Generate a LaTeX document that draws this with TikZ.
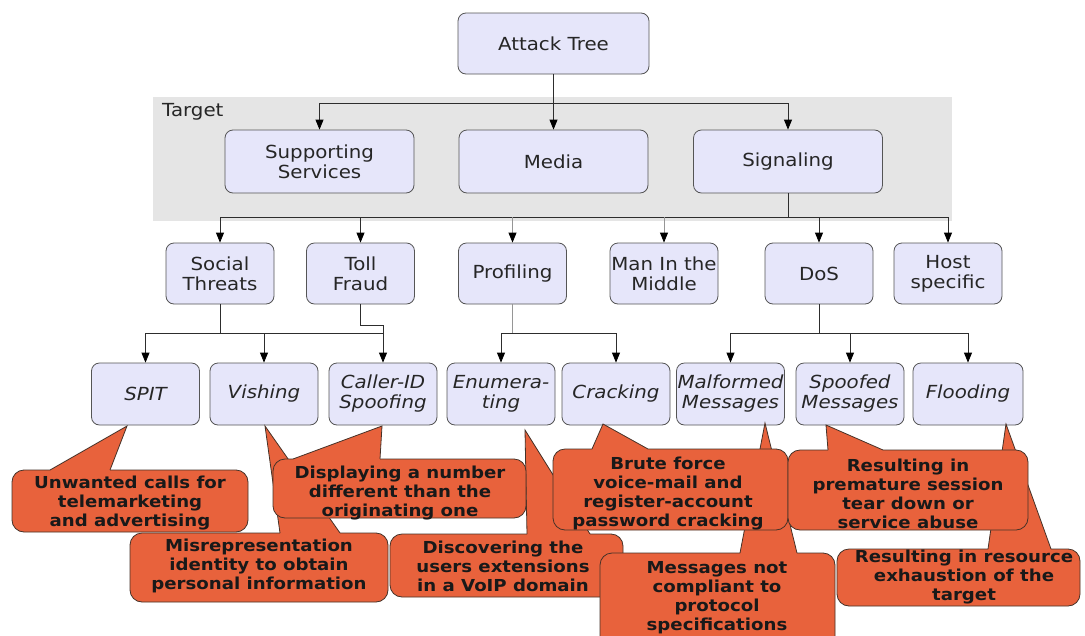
\documentclass[tikz,border=0pt]{standalone}
\usepackage{fontspec}
\setmainfont{DejaVu Sans}[FakeStretch=1.1]
\usetikzlibrary{arrows.meta}

\definecolor{boxfill}{RGB}{230,230,250}
\definecolor{boxline}{RGB}{85,85,85}
\definecolor{band}{RGB}{229,229,229}
\definecolor{callfill}{RGB}{232,98,60}
\definecolor{callline}{RGB}{70,50,40}
\definecolor{wire}{RGB}{45,45,45}
\definecolor{softwire}{RGB}{150,150,150}

% speech-bubble: body x1 y1 x2 y2, tail base from #5 to #6 on the top edge, tip at (#7,#8)
\newcommand\calloutshape[8]{%
  \fill[callfill] (#5,#2) -- (#7,#8) -- (#6,#2) -- cycle;
  \fill[callfill,rounded corners=12pt] (#1,#2) rectangle (#3,#4);
  \draw[callline,line width=0.8pt,rounded corners=12pt]
    (#5,#2) -- (#1,#2) -- (#1,#4) -- (#3,#4) -- (#3,#2) -- (#6,#2);
  \draw[callline,line width=0.8pt,line join=miter] (#6,#2) -- (#7,#8) -- (#5,#2);
}

\tikzset{
  tbox/.style={draw=boxline, fill=boxfill, rounded corners=8pt, line width=0.8pt,
    align=center, inner sep=0pt, text=black!85, font=\fontsize{18}{20}\selectfont},
  wide/.style={tbox, minimum width=189pt, minimum height=63pt},
  small/.style={tbox, minimum width=108pt, minimum height=61pt},
  leaf/.style={small, minimum height=62pt, font=\fontsize{18}{20}\selectfont\itshape},
  wirel/.style={draw=wire, line width=0.8pt},
  softl/.style={draw=softwire, line width=0.8pt},
  arr/.style={wirel, -{Triangle[width=8pt,length=10pt,color=black]}},
  softarr/.style={softl, -{Triangle[width=8pt,length=10pt,color=black]}},
  ctext/.style={align=center, inner sep=0pt, text=black!90,
    font=\fontsize{16.5}{19}\selectfont\bfseries},
}

\begin{document}
\begin{tikzpicture}[x=1pt,y=-1pt]
\useasboundingbox (0,0) rectangle (1085,635);
\fill[white] (0,0) rectangle (1085,635);
\clip (0,0) rectangle (1085,635);

% target band
\fill[band] (153,97) rectangle (952,221);
\node[anchor=west, inner sep=0pt, text=black!85, font=\fontsize{18}{20}\selectfont] (target) at (162,112) {Target};

% root and first level
\node[tbox, minimum width=191pt, minimum height=61pt] (root) at (553.5,43.5) {Attack Tree};
\node[wide] (supp)  at (319.5,161.5) {Supporting\\Services};
\node[wide] (media) at (553.5,161.5) {Media};
\node[wide] (sig)   at (788,161.5)   {Signaling};

% second level
\node[small] (social) at (220,273.5)   {Social\\Threats};
\node[small] (toll)   at (360.5,273.5) {Toll\\Fraud};
\node[small] (prof)   at (512.5,273.5) {Profiling};
\node[small] (mitm)   at (664,273.5)   {Man In the\\Middle};
\node[small] (dos)    at (819,273.5)   {DoS};
\node[small] (host)   at (948,273.5)   {Host\\specific};

% third level
\node[leaf] (spit)  at (145.5,394) {SPIT};
\node[leaf] (vish)  at (264,394)   {Vishing};
\node[leaf] (cid)   at (383,394)   {Caller-ID\\Spoofing};
\node[leaf] (enum)  at (501,394)   {Enumera-\\ting};
\node[leaf] (crack) at (616,394)   {Cracking};
\node[leaf] (malf)  at (730.5,394) {Malformed\\Messages};
\node[leaf] (spoof) at (850,394)   {Spoofed\\Messages};
\node[leaf, minimum width=110pt] (flood) at (968,394) {Flooding};

% root to first level
\draw[arr] (root) -- (media);
\coordinate (busA) at (0,103);
\draw[wirel] (supp.north |- busA) -- (sig.north |- busA);
\draw[arr] (supp.north |- busA) -- (supp.north);
\draw[arr] (sig.north |- busA) -- (sig.north);

% first to second level
\coordinate (busB) at (0,217);
\draw[wirel] (sig.south) -- (sig.south |- busB);
\draw[wirel] (social.north |- busB) -- (host.north |- busB);
\draw[arr] (social.north |- busB) -- (social.north);
\draw[arr] (toll.north |- busB) -- (toll.north);
\draw[softarr] (prof.north |- busB) -- (prof.north);
\draw[softarr] (mitm.north |- busB) -- (mitm.north);
\draw[arr] (dos.north |- busB) -- (dos.north);
\draw[arr] (host.north |- busB) -- (host.north);

% second to third level
\coordinate (busC) at (0,333);
\draw[wirel] (social.south) -- (social.south |- busC);
\draw[wirel] (spit.north |- busC) -- (cid.north |- busC);
\draw[wirel] (toll.south) -- ++(0,21) -| (cid.north |- busC);
\draw[arr] (spit.north |- busC) -- (spit.north);
\draw[arr] (vish.north |- busC) -- (vish.north);
\draw[arr] (cid.north |- busC) -- (cid.north);

\draw[softl] (prof.south) -- (prof.south |- busC);
\draw[wirel] (enum.north |- busC) -- (crack.north |- busC);
\draw[arr] (enum.north |- busC) -- (enum.north);
\draw[arr] (crack.north |- busC) -- (crack.north);

\draw[wirel] (dos.south) -- (dos.south |- busC);
\draw[wirel] (malf.north |- busC) -- (flood.north |- busC);
\draw[arr] (malf.north |- busC) -- (malf.north);
\draw[arr] (spoof.north |- busC) -- (spoof.north);
\draw[arr] (flood.north |- busC) -- (flood.north);

% explanatory bubbles
\calloutshape{130}{533}{388}{602}{280}{340}{265}{426}
\node[ctext] (n-vish) at (259,566) {Misrepresentation\\identity to obtain\\personal information};

\calloutshape{12}{470}{248}{532}{50}{110}{127}{426}
\node[ctext] (n-spit) at (130,503) {Unwanted calls for\\telemarketing\\and advertising};

\calloutshape{390}{534}{623}{597}{527}{590}{525}{430}
\node[ctext] (n-enum) at (503,566) {Discovering the\\users extensions\\in a VoIP domain};

\calloutshape{273}{459}{526}{518}{293}{380}{382}{426}
\node[ctext] (n-cid) at (400,493) {Displaying a number\\different than the\\originating one};

\calloutshape{600}{553}{835}{660}{740}{797}{765}{423}
\node[ctext] (n-malf) at (717,597.5) {Messages not\\compliant to\\protocol\\specifications};

\calloutshape{553}{449}{788}{530}{592}{648}{603}{424}
\node[ctext] (n-crack) at (668,493.5) {Brute force\\voice-mail and\\register-account\\password cracking};

\calloutshape{837}{549}{1080}{606}{988}{1051}{1006}{424}
\node[ctext] (n-flood) at (964,577) {Resulting in resource\\exhaustion of the\\target};

\calloutshape{788}{450}{1028}{530}{828}{883}{826}{425}
\node[ctext] (n-spoof) at (908,493.5) {Resulting in\\premature session\\tear down or\\service abuse};
\end{tikzpicture}
\end{document}
